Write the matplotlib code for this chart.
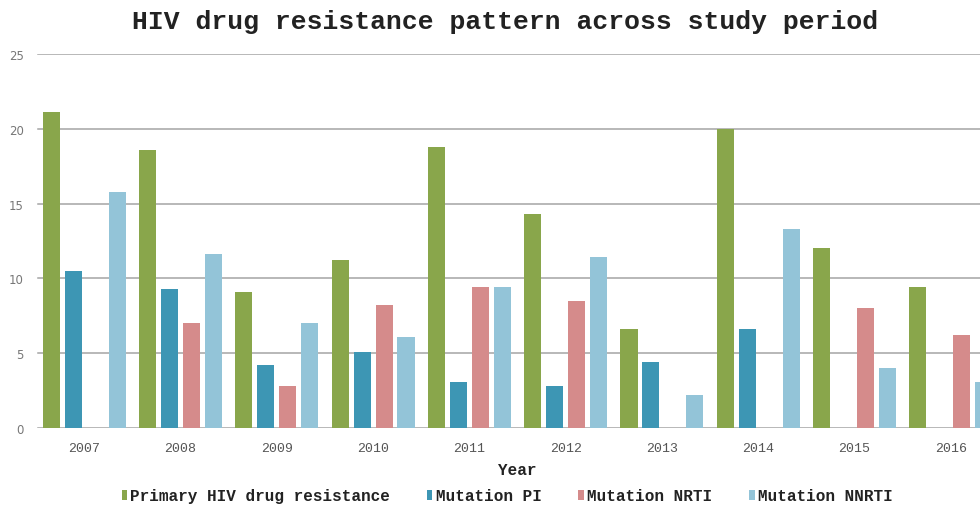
import matplotlib.pyplot as plt
import numpy as np

years = ['2007', '2008', '2009', '2010', '2011', '2012', '2013', '2014', '2015', '2016']
primary = [21.1, 18.6, 9.1, 11.2, 18.8, 14.3, 6.6, 20.0, 12.0, 9.4]
mut_pi = [10.5, 9.3, 4.2, 5.1, 3.1, 2.8, 4.4, 6.6, 0, 0]
mut_nrti = [0, 7.0, 2.8, 8.2, 9.4, 8.5, 0, 0, 8.0, 6.2]
mut_nnrti = [15.8, 11.6, 7.0, 6.1, 9.4, 11.4, 2.2, 13.3, 4.0, 3.1]

series = [
    ('Primary HIV drug resistance', primary, '#89a64b'),
    ('Mutation PI', mut_pi, '#3d96b4'),
    ('Mutation NRTI', mut_nrti, '#d58b8b'),
    ('Mutation NNRTI', mut_nnrti, '#93c4d8'),
]

mono = 'Liberation Mono'

fig = plt.figure(figsize=(9.8, 5.06), dpi=100)
# the plot area runs a little past the right edge of the figure
ax = fig.add_axes([36 / 980, 1 - 429 / 506, 963 / 980, 374 / 506])

x = np.arange(len(years))
step = 0.228
width = 0.177
for i, (name, vals, col) in enumerate(series):
    ax.bar(x + (i - 1.5) * step, vals, width, color=col, label=name, zorder=3)

ax.set_xlim(-0.5, len(years) - 0.5)
ax.set_ylim(0, 25)
ax.set_yticks([0, 5, 10, 15, 20, 25])
for v in [0, 5, 10, 15, 20, 25]:
    ax.axhline(v, xmin=2 / 963, color='#a4a4a4', linewidth=1.1, zorder=1)

for s in ax.spines.values():
    s.set_visible(False)
ax.tick_params(axis='both', length=0)
ax.tick_params(axis='y', pad=9, labelsize=8.5, labelcolor='#777777')
ax.set_xticks(x)
ax.set_xticklabels(years, fontfamily=mono, fontsize=9.5, color='#555555')
ax.tick_params(axis='x', pad=10)

fig.text(517 / 980, 1 - 471 / 506, 'Year', ha='center', va='center',
         fontfamily=mono, fontweight='bold', fontsize=11.5, color='#222222')
fig.text(505 / 980, 1 - 22 / 506, 'HIV drug resistance pattern across study period',
         ha='center', va='center', fontfamily=mono, fontweight='bold',
         fontsize=19, color='#222222')

leg = fig.legend(loc='center', bbox_to_anchor=(507 / 980, 1 - 497 / 506), ncol=4,
                 frameon=False, handlelength=0.35, handleheight=0.55,
                 handletextpad=0.2, columnspacing=2.3,
                 prop={'family': mono, 'weight': 'bold', 'size': 11.5})
for t in leg.get_texts():
    t.set_color('#222222')

fig.savefig('out.png', dpi=100)
